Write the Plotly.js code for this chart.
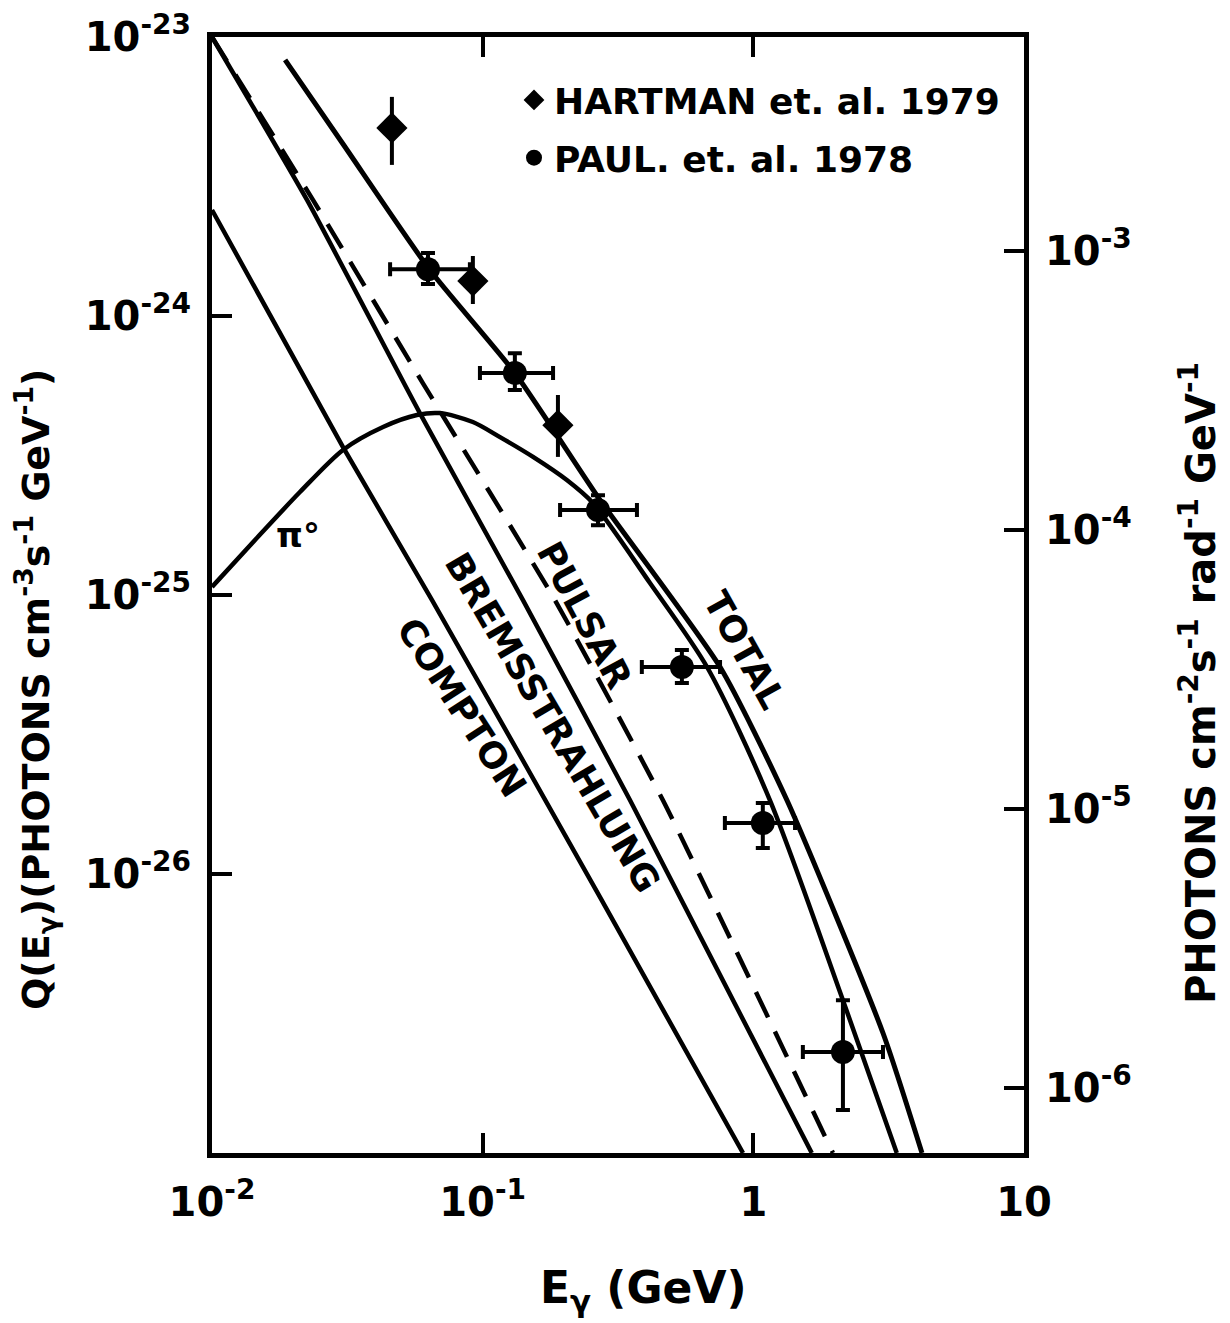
<!DOCTYPE html>
<html>
<head>
<meta charset="utf-8">
<script src="https://cdn.plot.ly/plotly-3.0.1.min.js"></script>
<style>
html,body{margin:0;padding:0;background:#fff;}
#chart{width:1230px;height:1323px;}
</style>
</head>
<body>
<div id="chart"></div>
<script>
// ---------------- data ----------------
const xTickVals = [0.01, 0.1, 1, 10];
const xTickText = ["10<sup>-2</sup>", "10<sup>-1</sup>", "1", "10"];
const yTickVals = [1e-23, 1e-24, 1e-25, 1e-26];
const yTickText = ["10<sup>-23</sup>", "10<sup>-24</sup>", "10<sup>-25</sup>", "10<sup>-26</sup>"];
const y2TickVals = [1e-3, 1e-4, 1e-5, 1e-6];
const y2TickText = ["10<sup>-3</sup>", "10<sup>-4</sup>", "10<sup>-5</sup>", "10<sup>-6</sup>"];

// Model curves: E (GeV), Q (photons cm^-3 s^-1 GeV^-1)
const totalE = [0.01862, 0.03048, 0.06383, 0.1315, 0.2712, 0.7534, 1.330, 3.013, 4.198];
const totalQ = [8.28e-24, 4.135e-24, 1.462e-24, 6.252e-25, 2.193e-25, 5.52e-26, 1.841e-26, 2.692e-27, 1e-27];

const pionE = [0.01, 0.01442, 0.02113, 0.03048, 0.04285, 0.05715, 0.0695, 0.092, 0.1159, 0.1535, 0.2046, 0.2553, 0.415, 0.6745, 1.151, 2.143, 3.388];
const pionQ = [1.069e-25, 1.574e-25, 2.339e-25, 3.311e-25, 4.0e-25, 4.416e-25, 4.487e-25, 4.169e-25, 3.681e-25, 3.126e-25, 2.582e-25, 2.138e-25, 1.104e-25, 5.52e-26, 1.841e-26, 3.53e-27, 1e-27];

const bremsE = [0.01, 0.02244, 0.0586, 0.1409, 0.350, 1.644];
const bremsQ = [1e-23, 2.606e-24, 4.487e-25, 9.59e-26, 1.841e-26, 1e-27];

const pulsarE = [0.01, 0.0236, 0.0601, 0.1849, 0.463, 1.968];
const pulsarQ = [1e-23, 2.606e-24, 5.75e-25, 9.59e-26, 1.841e-26, 1e-27];

const comptonE = [0.01, 0.03048, 0.0650, 0.271, 0.916];
const comptonQ = [2.399e-24, 3.39e-25, 9.59e-26, 8.28e-27, 1e-27];

// Hartman et al. 1979
const hartmanE = [0.0462, 0.0920, 0.1897];
const hartmanQ = [4.72e-24, 1.334e-24, 4.06e-25];
const hartmanQHigh = [6.10e-24, 1.641e-24, 5.21e-25];
const hartmanQLow = [3.48e-24, 1.104e-24, 3.126e-25];

// Paul et al. 1978
const paulE = [0.0628, 0.1315, 0.2667, 0.5445, 1.084, 2.143];
const paulELow = [0.0455, 0.0977, 0.1932, 0.3873, 0.785, 1.524];
const paulEHigh = [0.0897, 0.182, 0.3715, 0.7534, 1.426, 3.013];
const paulQ = [1.472e-24, 6.25e-25, 2.018e-25, 5.52e-26, 1.524e-26, 2.30e-27];
const paulQHigh = [1.683e-24, 7.36e-25, 2.28e-25, 6.35e-26, 1.795e-26, 3.53e-27];
const paulQLow = [1.303e-24, 5.43e-25, 1.78e-25, 4.84e-26, 1.239e-26, 1.426e-27];

// ---------------- styling ----------------
const FONT = "DejaVu Sans, Verdana, sans-serif";
const BLACK = "#000";
const LW = 4.5;

const up = (v, hi) => hi.map((h, i) => h - v[i]);
const dn = (v, lo) => lo.map((l, i) => v[i] - l);

function curve(E, Q, dash, w, sm) {
  return {
    x: E, y: Q, type: "scatter", mode: "lines", showlegend: false, hoverinfo: "skip",
    line: {color: BLACK, width: w || LW, dash: dash || "solid", shape: "spline", smoothing: sm || 0.6}
  };
}

const traces = [
  curve(comptonE, comptonQ, "solid", LW, 0.5),
  curve(bremsE, bremsQ, "solid", LW, 0.5),
  curve(pulsarE, pulsarQ, "28px,16px", LW, 0.5),
  curve(pionE, pionQ, "solid", LW, 0.8),
  curve(totalE, totalQ, "solid", 5, 0.6),
  {
    x: hartmanE, y: hartmanQ, type: "scatter", mode: "markers",
    name: "HARTMAN et. al. 1979", legendgroup: "h",
    marker: {symbol: "diamond", size: 24, color: BLACK},
    error_y: {type: "data", symmetric: false, array: up(hartmanQ, hartmanQHigh), arrayminus: dn(hartmanQ, hartmanQLow), color: BLACK, thickness: 4, width: 0}
  },
  {
    x: paulE, y: paulQ, type: "scatter", mode: "markers",
    name: "PAUL. et. al. 1978", legendgroup: "p",
    marker: {symbol: "circle", size: 24, color: BLACK},
    error_x: {type: "data", symmetric: false, array: up(paulE, paulEHigh), arrayminus: dn(paulE, paulELow), color: BLACK, thickness: 4, width: 7},
    error_y: {type: "data", symmetric: false, array: up(paulQ, paulQHigh), arrayminus: dn(paulQ, paulQLow), color: BLACK, thickness: 4, width: 7}
  },
  {x: [], y: [], yaxis: "y2", type: "scatter", mode: "lines", showlegend: false, hoverinfo: "skip"}
];

// paper-coordinate helpers for label placement
const L = 212, R = 1024, T = 37, B = 1153;
const PX = px => (px - L) / (R - L);
const PY = py => (B - py) / (B - T);

const labelFont = {family: FONT, size: 36, color: BLACK, weight: "bold"};

function lab(text, px, py, angle, size) {
  return {
    text: text, xref: "paper", yref: "paper", x: PX(px), y: PY(py),
    xanchor: "center", yanchor: "middle", showarrow: false, textangle: angle,
    font: Object.assign({}, labelFont, size ? {size: size} : {})
  };
}

const axisCommon = {
  type: "log", showgrid: false, zeroline: false, showline: true,
  linecolor: BLACK, linewidth: 5, ticks: "inside", ticklen: 20, tickwidth: 4, tickcolor: BLACK,
  tickfont: {family: FONT, size: 40, color: BLACK, weight: "bold"}, tickmode: "array"
};

const layout = {
  width: 1230, height: 1323,
  margin: {l: L, r: 1230 - R, t: T, b: 1323 - B, pad: 0},
  paper_bgcolor: "#fff", plot_bgcolor: "#fff",
  font: {family: FONT, color: BLACK, size: 36, weight: "bold"},
  showlegend: true,
  legend: {
    x: PX(514), y: PY(70), xanchor: "left", yanchor: "top",
    bgcolor: "rgba(0,0,0,0)", borderwidth: 0, tracegroupgap: 8,
    font: {family: FONT, size: 36, color: BLACK, weight: "bold"}
  },
  xaxis: Object.assign({}, axisCommon, {
    range: [-2, 1], tickvals: xTickVals, ticktext: xTickText, mirror: "ticks", ticklabelstandoff: 10
  }),
  yaxis: Object.assign({}, axisCommon, {
    range: [-27, -23], tickvals: yTickVals, ticktext: yTickText, mirror: false, ticklabelstandoff: 8
  }),
  yaxis2: Object.assign({}, axisCommon, {
    range: [-6.233, -2.233], tickvals: y2TickVals, ticktext: y2TickText,
    overlaying: "y", side: "right", anchor: "x", ticklabelstandoff: 8
  }),
  annotations: [
    lab("Q(E<sub>γ</sub>)(PHOTONS cm<sup>-3</sup>s<sup>-1</sup> GeV<sup>-1</sup>)", 35, 690, -90, 38),
    lab("PHOTONS cm<sup>-2</sup>s<sup>-1</sup> rad<sup>-1</sup> GeV<sup>-1</sup>", 1198, 683, -90, 40),
    lab("E<sub>γ</sub> (GeV)", 643, 1290, 0, 44),
    lab("TOTAL", 745, 650, 61),
    lab("PULSAR", 585, 615, 62),
    lab("BREMSSTRAHLUNG", 553, 722, 59.5),
    lab("COMPTON", 462, 707, 57),
    lab("π°", 298, 535, 0, 34)
  ]
};

Plotly.newPlot("chart", traces, layout, {displayModeBar: false, staticPlot: true});
</script>
</body>
</html>
